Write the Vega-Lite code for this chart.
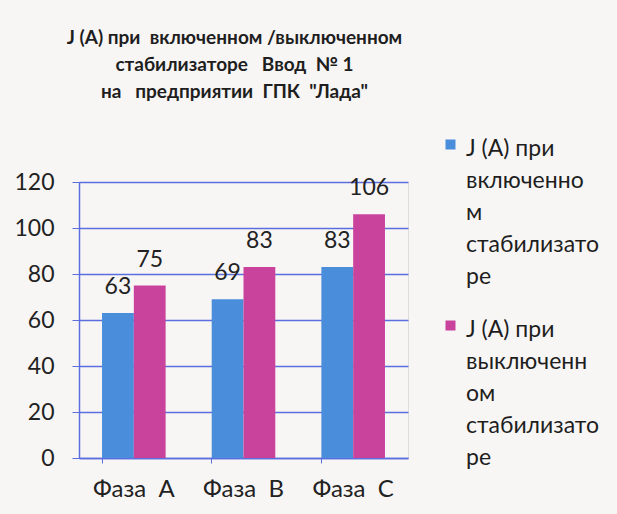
{
  "$schema": "https://vega.github.io/schema/vega-lite/v6.json",
  "width": 329,
  "height": 276,
  "autosize": {"type": "none"},
  "padding": {"left": 79, "top": 182, "right": 209, "bottom": 56},
  "background": "#f8f6f5",
  "title": {
    "text": ["J (А) при\u00a0 включенном /выключенном", "стабилизаторе\u00a0\u00a0 Ввод\u00a0 № 1", "на\u00a0\u00a0 предприятии\u00a0 ГПК\u00a0 \"Лада\""],
    "font": "Lato",
    "fontSize": 19,
    "fontWeight": "bold",
    "color": "#1e1e1e",
    "lineHeight": 27,
    "anchor": "middle",
    "offset": 24,
    "dx": -9
  },
  "data": {
    "values": [
      {"phase": "Фаза\u00a0 А", "series": "вкл", "value": 63},
      {"phase": "Фаза\u00a0 А", "series": "выкл", "value": 75},
      {"phase": "Фаза\u00a0 В", "series": "вкл", "value": 69},
      {"phase": "Фаза\u00a0 В", "series": "выкл", "value": 83},
      {"phase": "Фаза\u00a0 С", "series": "вкл", "value": 83},
      {"phase": "Фаза\u00a0 С", "series": "выкл", "value": 106}
    ]
  },
  "encoding": {
    "x": {
      "field": "phase", "type": "nominal", "sort": null, "title": null,
      "scale": {"paddingInner": 0.42, "paddingOuter": 0.21},
      "axis": {
        "labelAngle": 0, "labelFont": "Lato", "labelFontSize": 24, "labelColor": "#222222",
        "labelPadding": 14, "domainColor": "#5b6ee0", "domainWidth": 1.5,
        "tickColor": "#5b6ee0", "tickSize": 5, "bandPosition": 0, "grid": false
      }
    },
    "xOffset": {"field": "series", "type": "nominal", "sort": ["вкл", "выкл"]},
    "y": {
      "field": "value", "type": "quantitative", "title": null,
      "scale": {"domain": [0, 120]},
      "axis": {
        "values": [0, 20, 40, 60, 80, 100, 120],
        "labelFont": "Lato", "labelFontSize": 23, "labelColor": "#222222",
        "labelPadding": 18, "tickSize": 7, "tickColor": "#5b6ee0",
        "domainColor": "#5b6ee0", "domainWidth": 1.5,
        "gridColor": "#5b6ee0", "gridWidth": 1.5, "gridOpacity": 1
      }
    }
  },
  "layer": [
    {
      "mark": {"type": "bar"},
      "encoding": {
        "color": {
          "field": "series", "type": "nominal",
          "scale": {"domain": ["вкл", "выкл"], "range": ["#4a8ddb", "#c9439c"]},
          "legend": {
            "title": null,
            "orient": "none",
            "legendX": 360,
            "legendY": -56,
            "symbolType": "M-0.5,0.2H0.5V1.2H-0.5Z",
            "symbolSize": 400,
            "labelFont": "Lato",
            "labelFontSize": 23,
            "labelColor": "#1e1e1e",
            "labelBaseline": "top",
            "labelOffset": 4,
            "labelLimit": 200,
            "rowPadding": 18,
            "labelExpr": "datum.value == 'вкл' ? ['J (А) при', 'включенно', 'м', 'стабилизато', 'ре'] : ['J (А) при', 'выключенн', 'ом', 'стабилизато', 'ре']",
            "encode": {"labels": {"update": {"lineHeight": {"value": 32}}}}
          }
        }
      }
    },
    {
      "mark": {"type": "text", "font": "Lato", "fontSize": 23, "color": "#222222", "baseline": "alphabetic", "dy": -19},
      "encoding": {"text": {"field": "value", "type": "quantitative"}}
    }
  ]
}
